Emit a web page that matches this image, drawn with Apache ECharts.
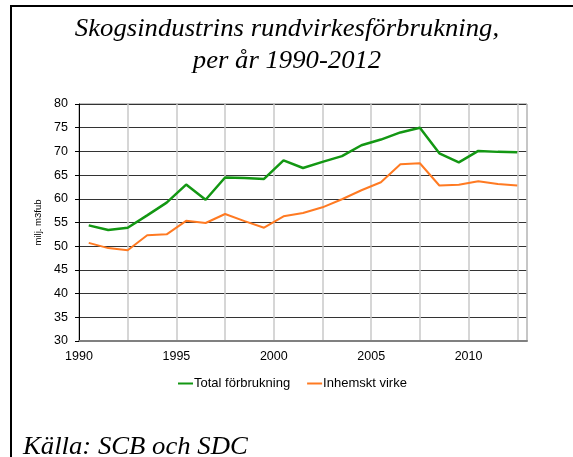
<!DOCTYPE html>
<html>
<head>
<meta charset="utf-8">
<script src="https://cdn.jsdelivr.net/npm/echarts@6/dist/echarts.min.js"></script>
<style>
    html, body { margin: 0; padding: 0; background: #fff; }
    #chart { width: 573px; height: 457px; }
</style>
</head>
<body>
<div id="chart"></div>
<script>
// år 1990-2012, punkterna ligger mitt i varje år
var years = [1990, 1991, 1992, 1993, 1994, 1995, 1996, 1997, 1998, 1999, 2000, 2001,
             2002, 2003, 2004, 2005, 2006, 2007, 2008, 2009, 2010, 2011, 2012];
var totalForbrukning = [54.4, 53.4, 53.9, 56.5, 59.2, 63.0, 59.8, 64.5, 64.4, 64.2, 68.1, 66.5,
                        67.8, 69.0, 71.3, 72.5, 74.0, 75.0, 69.6, 67.7, 70.1, 69.9, 69.8];
var inhemsktVirke = [50.7, 49.6, 49.15, 52.3, 52.5, 55.35, 54.9, 56.8, 55.3, 53.9, 56.3, 57.0,
                     58.2, 59.9, 61.8, 63.5, 67.3, 67.5, 62.8, 62.95, 63.7, 63.1, 62.8];
var yTicks = [30, 35, 40, 45, 50, 55, 60, 65, 70, 75, 80];

function pairs(values) {
    var out = [];
    for (var i = 0; i < years.length; i++) {
        out.push([years[i] + 0.5, values[i]]);
    }
    return out;
}

var sansFamily = '"Liberation Sans", Arial, sans-serif';
var serifFont = 'italic 24.5px "Liberation Serif", "Times New Roman", serif';

var chart = echarts.init(document.getElementById('chart'));

var option = {
    animation: false,
    backgroundColor: '#fff',
    textStyle: { fontFamily: sansFamily },
    graphic: [
        {   // ram runt diagrammet (syns bara till vänster och upptill)
            type: 'rect',
            shape: { x: 11, y: 6, width: 700, height: 600 },
            style: { fill: 'none', stroke: '#000', lineWidth: 2 },
            silent: true
        },
        {
            type: 'text',
            x: 287,
            y: 14,
            scaleX: 1.09,
            style: {
                text: 'Skogsindustrins rundvirkesförbrukning,\nper år 1990-2012',
                font: serifFont,
                fill: '#000',
                align: 'center',
                verticalAlign: 'top',
                lineHeight: 32
            }
        },
        {
            type: 'text',
            x: 23,
            y: 448,
            scaleX: 1.09,
            style: {
                text: 'Källa: SCB och SDC',
                font: serifFont,
                fill: '#000',
                align: 'left',
                verticalAlign: 'middle'
            }
        }
    ],
    legend: {
        top: 372,
        left: 173,
        itemWidth: 15,
        itemHeight: 2,
        itemGap: 17,
        icon: 'rect',
        textStyle: { fontSize: 13, fontFamily: sansFamily, color: '#000', padding: [0, 0, 0, -4] },
        data: ['Total förbrukning', 'Inhemskt virke']
    },
    grid: {
        left: 79,
        right: 46,
        top: 104,
        bottom: 116,
        show: true,
        borderColor: '#808080',
        borderWidth: 1
    },
    xAxis: {
        type: 'value',
        min: 1990,
        max: 2013,
        interval: 2.5,
        axisLine: { show: true, lineStyle: { color: '#808080', width: 2 } },
        axisTick: { show: false },
        axisLabel: {
            fontSize: 12.5,
            fontFamily: sansFamily,
            color: '#000',
            margin: 9,
            formatter: function(v) {
                return v % 5 === 0 ? String(v) : '';
            }
        },
        splitLine: { show: true, lineStyle: { color: '#c8c8c8', width: 1.5 } }
    },
    yAxis: {
        type: 'value',
        min: yTicks[0],
        max: yTicks[yTicks.length - 1],
        interval: 5,
        name: 'milj. m3fub',
        nameLocation: 'middle',
        nameGap: 31,
        nameTextStyle: { fontSize: 9.5, fontFamily: sansFamily, color: '#000' },
        axisLine: { show: true, lineStyle: { color: '#000', width: 1 } },
        axisTick: { show: true, inside: false, length: 4, lineStyle: { color: '#000' } },
        axisLabel: { fontSize: 12.5, fontFamily: sansFamily, color: '#000', margin: 11 },
        splitLine: { show: true, lineStyle: { color: '#333', width: 1 } }
    },
    series: [
        {
            name: 'Total förbrukning',
            type: 'line',
            data: pairs(totalForbrukning),
            symbol: 'none',
            color: '#139713',
            lineStyle: { width: 2.5, color: '#139713' },
            z: 3
        },
        {
            name: 'Inhemskt virke',
            type: 'line',
            data: pairs(inhemsktVirke),
            symbol: 'none',
            color: '#ff7a22',
            lineStyle: { width: 2, color: '#ff7a22' },
            z: 2
        }
    ]
};

chart.setOption(option);
</script>
</body>
</html>
